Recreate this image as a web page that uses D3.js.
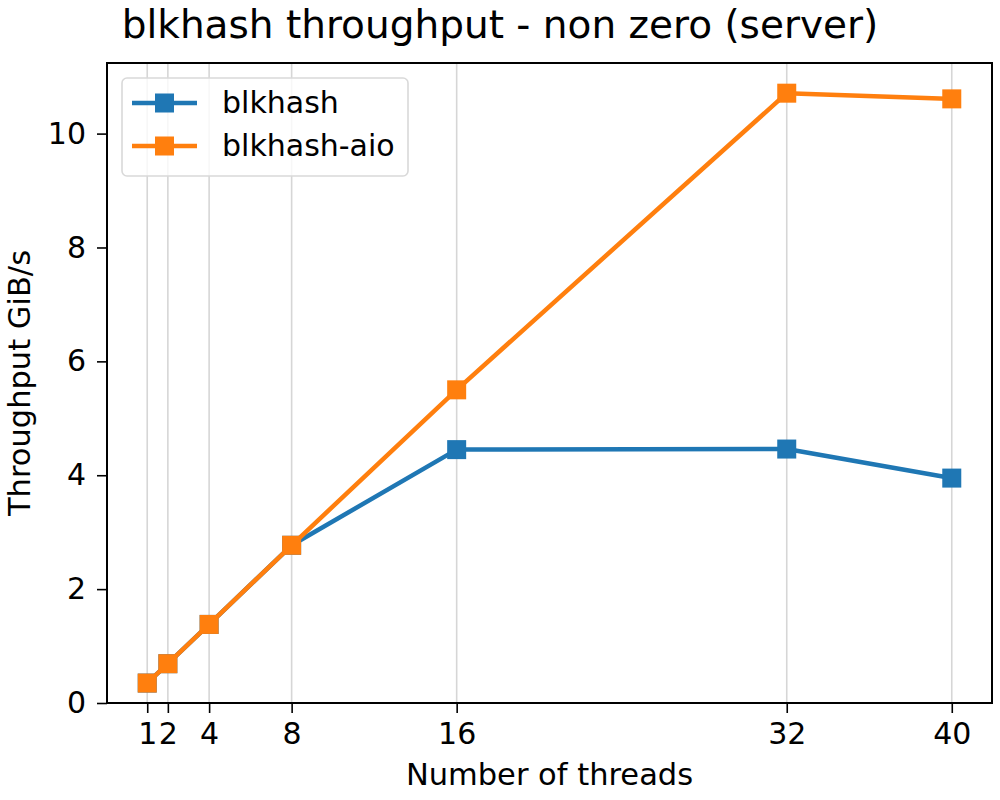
<!DOCTYPE html>
<html>
<head>
<meta charset="utf-8">
<script src="https://cdn.jsdelivr.net/npm/d3@7"></script>
<style>
  body { margin: 0; background: #fff; }
  text { font-family: "DejaVu Sans", sans-serif; }
</style>
</head>
<body>
<div id="chart"></div>
<script>
// data
var threads = [1, 2, 4, 8, 16, 32, 40];
var blkhash = [0.35, 0.69, 1.38, 2.77, 4.45, 4.46, 3.95];
var blkhashAio = [0.35, 0.69, 1.38, 2.77, 5.50, 10.71, 10.61];
var yTicks = [0, 2, 4, 6, 8, 10];

var series = [
  { name: "blkhash", values: blkhash, color: "#1f77b4" },
  { name: "blkhash-aio", values: blkhashAio, color: "#ff7f0e" }
];

var svgWidth = 1000;
var svgHeight = 800;
var margin = { top: 63, right: 8, bottom: 97, left: 107 };
var width = svgWidth - margin.left - margin.right;
var height = svgHeight - margin.top - margin.bottom;

var svg = d3.select("#chart").append("svg")
  .attr("width", svgWidth)
  .attr("height", svgHeight);

var g = svg.append("g")
  .attr("transform", `translate(${margin.left}, ${margin.top})`);

// matplotlib style 5% margins on x
var xScale = d3.scaleLinear().domain([-0.95, 41.95]).range([0, width]);
var yScale = d3.scaleLinear().domain([0, 11.24]).range([height, 0]);

// vertical grid only
g.selectAll(".grid")
  .data(threads)
  .enter().append("line")
  .attr("x1", d => xScale(d)).attr("x2", d => xScale(d))
  .attr("y1", 0).attr("y2", height)
  .attr("stroke", "#d6d6d6")
  .attr("stroke-width", 1.6);

var bottomAxis = d3.axisBottom(xScale).tickValues(threads).tickSize(10).tickPadding(10);
var leftAxis = d3.axisLeft(yScale).tickValues(yTicks).tickSize(10).tickPadding(11);

var xg = g.append("g").attr("transform", `translate(0, ${height})`).call(bottomAxis);
var yg = g.append("g").call(leftAxis);
[xg, yg].forEach(function(a) {
  a.select(".domain").remove();
  a.selectAll("line").attr("stroke", "#000").attr("stroke-width", 1.6);
  a.selectAll("text").attr("font-size", "30px").attr("fill", "#000")
    .style("font-family", "DejaVu Sans, sans-serif");
});

// frame
g.append("rect")
  .attr("width", width).attr("height", height)
  .attr("fill", "none").attr("stroke", "#000").attr("stroke-width", 2);

var line = d3.line()
  .x((d, i) => xScale(threads[i]))
  .y(d => yScale(d));

series.forEach(function(s) {
  g.append("path")
    .datum(s.values)
    .attr("d", line)
    .attr("fill", "none")
    .attr("stroke", s.color)
    .attr("stroke-width", 4.5)
    .attr("stroke-linejoin", "round")
    .attr("stroke-linecap", "square");

  g.selectAll(".pt-" + s.name)
    .data(s.values)
    .enter().append("rect")
    .attr("x", (d, i) => xScale(threads[i]) - 9.5)
    .attr("y", d => yScale(d) - 9.5)
    .attr("width", 19).attr("height", 19)
    .attr("fill", s.color);
});

// legend
var legend = g.append("g").attr("transform", "translate(15, 15)");
legend.append("rect")
  .attr("width", 286).attr("height", 98)
  .attr("rx", 5)
  .attr("fill", "#fff").attr("fill-opacity", 0.8)
  .attr("stroke", "#d9d9d9").attr("stroke-width", 1.6);

series.forEach(function(s, i) {
  var yy = 25 + i * 43;
  legend.append("line")
    .attr("x1", 10).attr("x2", 75).attr("y1", yy).attr("y2", yy)
    .attr("stroke", s.color).attr("stroke-width", 4.5);
  legend.append("rect")
    .attr("x", 33).attr("y", yy - 9.5).attr("width", 19).attr("height", 19)
    .attr("fill", s.color);
  legend.append("text")
    .attr("x", 100).attr("y", yy + 10)
    .attr("font-size", "30px")
    .text(s.name);
});

// title and axis labels
svg.append("text")
  .attr("x", 500).attr("y", 38)
  .attr("text-anchor", "middle")
  .attr("font-size", "39px")
  .text("blkhash throughput - non zero (server)");

svg.append("text")
  .attr("x", margin.left + width / 2).attr("y", 785)
  .attr("text-anchor", "middle")
  .attr("font-size", "30.5px")
  .text("Number of threads");

svg.append("text")
  .attr("transform", `translate(30, ${margin.top + height / 2}) rotate(-90)`)
  .attr("text-anchor", "middle")
  .attr("font-size", "30.5px")
  .text("Throughput GiB/s");
</script>
</body>
</html>
